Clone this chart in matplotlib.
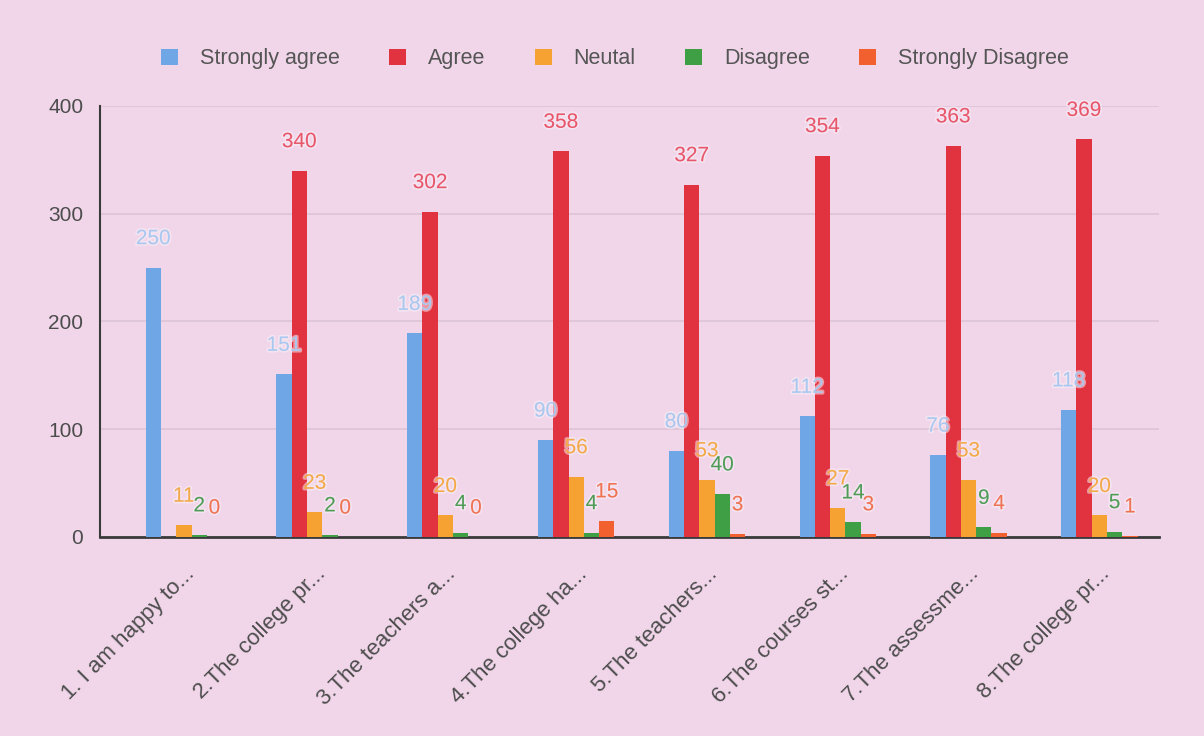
import matplotlib.pyplot as plt
import matplotlib.patheffects as pe
import numpy as np

plt.rcParams['font.family'] = ['Liberation Sans', 'DejaVu Sans']

questions = ['1. I am happy to...', '2.The college pr...', '3.The teachers a...',
             '4.The college ha...', '5.The teachers...', '6.The courses st...',
             '7.The assessme...', '8.The college pr...']
series = ['Strongly agree', 'Agree', 'Neutal', 'Disagree', 'Strongly Disagree']
strongly_agree = [250, 151, 189, 90, 80, 112, 76, 118]
agree = [0, 340, 302, 358, 327, 354, 363, 369]
neutral = [11, 23, 20, 56, 53, 27, 53, 20]
disagree = [2, 2, 4, 4, 40, 14, 9, 5]
strongly_disagree = [0, 0, 0, 15, 3, 3, 4, 1]

bar_colors = ['#6ea6e6', '#e0323f', '#f5a233', '#3f9f45', '#f2602f']
label_colors = ['#a9c8ef', '#e8566a', '#f3a948', '#4f9c57', '#ef7352']
bg = '#f1d6ea'
text_col = '#4c4c4c'

fig = plt.figure(figsize=(12.04, 7.36), dpi=100)
fig.patch.set_facecolor(bg)
ax = fig.add_axes([0.083, 0.2704, 0.88, 0.5856])
ax.set_facecolor(bg)

x = np.arange(len(questions))
w = 0.117
data = [strongly_agree, agree, neutral, disagree, strongly_disagree]
for k, vals in enumerate(data):
    pos = x + (k - 2) * w
    ax.bar(pos, vals, width=w, color=bar_colors[k], label=series[k], zorder=3)
    for p, v in zip(pos, vals):
        # first question has no Agree bar and no label
        if k == 1 and v == 0:
            continue
        t = ax.annotate(str(v), (p, v), xytext=(0, 14), textcoords='offset points',
                        ha='center', va='bottom', fontsize=15, color=label_colors[k], zorder=4)
        t.set_path_effects([pe.withStroke(linewidth=2.5, foreground='#f8eef5', alpha=0.55)])

ax.set_xlim(-0.642, 7.46)
ax.set_ylim(0, 400)
ax.set_yticks([0, 100, 200, 300, 400])
ax.yaxis.grid(True, color='#dcc3d5', lw=1.2, zorder=0)
ax.set_xticks(x)
ax.set_xticklabels(questions, rotation=45, ha='right', va='top', rotation_mode='anchor',
                   fontsize=16, color=text_col)
ax.tick_params(axis='x', length=0, pad=19)
ax.tick_params(axis='y', length=0, pad=12, labelsize=15, labelcolor=text_col)
for s in ['top', 'right']:
    ax.spines[s].set_visible(False)
ax.spines['left'].set_color('#3a3a3a')
ax.spines['bottom'].set_color('#3a3a3a')
ax.spines['left'].set_linewidth(1.5)
ax.spines['bottom'].set_linewidth(2)

ax.legend(loc='lower center', bbox_to_anchor=(0.486, 1.04), ncol=5, frameon=False,
          fontsize=15.5, handlelength=0.8, handleheight=0.8, handletextpad=1.0,
          columnspacing=2.3, labelcolor='#555555')

plt.savefig('out.png', facecolor=bg)
